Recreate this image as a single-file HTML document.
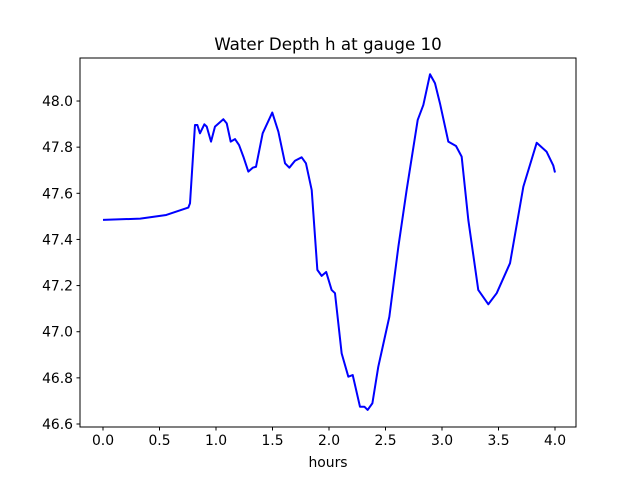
<!DOCTYPE html>
<html><head><meta charset="utf-8"><style>body{margin:0;background:#fff}svg{display:block}text{font-family:"DejaVu Sans","Liberation Sans",sans-serif;fill:#000}</style></head>
<body>
<svg id="c" width="640" height="480">
<rect x="0" y="0" width="640" height="480" fill="#fff"/>
<text x="328" y="50" text-anchor="middle" font-size="16.7">Water Depth h at gauge 10</text>
<text x="328" y="467" text-anchor="middle" font-size="13.9">hours</text>
<g id="axes"></g>
<polyline id="line" fill="none" stroke="#0000ff" stroke-width="2" stroke-linejoin="round"/>
<rect x="80" y="58" width="496" height="369" fill="none" stroke="#000" stroke-width="1"/>
</svg>
<script>
const hours=[0,0.33,0.56,0.755,0.77,0.814,0.835,0.858,0.897,0.918,0.956,0.991,1.065,1.095,1.13,1.168,1.204,1.242,1.286,1.325,1.354,1.413,1.498,1.552,1.611,1.649,1.699,1.758,1.796,1.847,1.897,1.935,1.975,2.023,2.053,2.112,2.171,2.21,2.274,2.313,2.342,2.384,2.436,2.534,2.614,2.687,2.785,2.835,2.894,2.938,2.982,3.056,3.124,3.174,3.233,3.321,3.41,3.484,3.602,3.72,3.838,3.926,3.985,4.0];
const depth=[47.485,47.49,47.506,47.538,47.557,47.896,47.896,47.86,47.899,47.889,47.824,47.889,47.921,47.903,47.824,47.835,47.809,47.759,47.694,47.711,47.715,47.86,47.95,47.867,47.73,47.711,47.741,47.756,47.73,47.614,47.268,47.242,47.259,47.181,47.167,46.906,46.805,46.812,46.675,46.675,46.661,46.69,46.848,47.065,47.369,47.614,47.918,47.983,48.116,48.077,47.99,47.824,47.805,47.759,47.484,47.181,47.119,47.167,47.297,47.629,47.819,47.78,47.72,47.69];
const xTicks=[0,0.5,1,1.5,2,2.5,3,3.5,4];
const yTicks=[46.6,46.8,47.0,47.2,47.4,47.6,47.8,48.0];
const xs=t=>103+113*t;
const ys=v=>424-(v-46.6)*230.7;
const NS="http://www.w3.org/2000/svg";
const ax=document.getElementById('axes');
function mk(tag,attrs){const e=document.createElementNS(NS,tag);for(const k in attrs)e.setAttribute(k,attrs[k]);return e;}
xTicks.forEach(t=>{
 const l=mk('line',{x1:xs(t),x2:xs(t),y1:427,y2:430.5,stroke:'#000'});
 
 
 ax.appendChild(l);
 const tx=mk('text',{x:xs(t),y:445,'text-anchor':'middle','font-size':'13.9'});
 
 
 tx.textContent=t.toFixed(1);ax.appendChild(tx);
});
yTicks.forEach(v=>{
 const l=mk('line',{x1:76.5,x2:80,y1:ys(v),y2:ys(v),stroke:'#000'});
 
 
 ax.appendChild(l);
 const tx=mk('text',{x:73,y:ys(v)+5,'text-anchor':'end','font-size':'13.9'});
 
 
 tx.textContent=v.toFixed(1);ax.appendChild(tx);
});
document.getElementById('line').setAttribute('points',hours.map((t,i)=>xs(t)+','+ys(depth[i])).join(' '));
</script>
</body></html>
